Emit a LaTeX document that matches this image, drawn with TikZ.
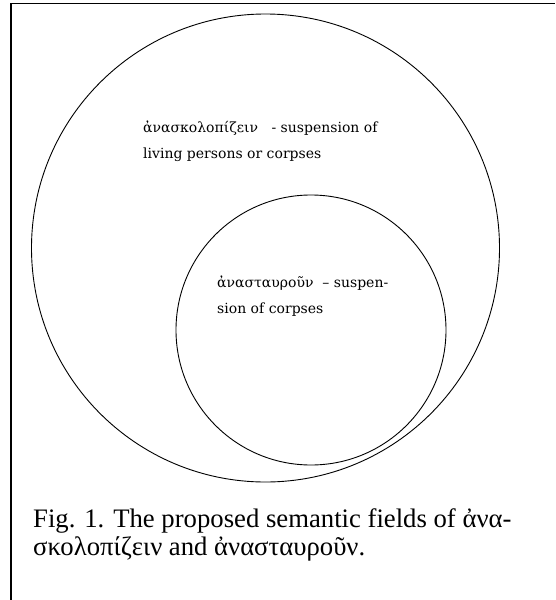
\documentclass[tikz,border=0pt]{standalone}
\usepackage{fontspec}
\setmainfont{DejaVu Serif}
\newfontfamily\capfont{Liberation Serif}
\usepackage{tikz}

\newcommand{\grk}[1]{{\fontsize{14}{12}\selectfont #1}}

\begin{document}
\begin{tikzpicture}[x=1pt,y=-1pt]
	\tikzstyle{every node}+=[inner sep=0pt]
	\tikzstyle{field}=[draw=black, line width=0.9pt, circle]
	\tikzstyle{fieldlabel}=[anchor=north west, align=left, font=\fontsize{14}{26}\selectfont]
	\useasboundingbox (0,0) rectangle (555,600);
	% frame, cut off at right and bottom
	\draw [black, line width=1.5pt] (11,600) -- (11,3.5) -- (555,3.5);
	% the two semantic fields
	\node [field, minimum size=468pt] (skolopizein) at (265.5,248) {};
	\node [field, minimum size=270pt] (stauroun) at (311,330) {};
	\node [fieldlabel] (skololabel) at (143,121)
		{\grk{ἀνασκολοπίζειν}\ \ \ - suspension of\\living persons or corpses};
	\node [fieldlabel] (staurolabel) at (217,276)
		{\grk{ἀνασταυροῦν}\ \ – suspen-\\sion of corpses};
	% caption
	\node [anchor=north west, align=left, font=\capfont\fontsize{26.7}{28}\selectfont] (caption) at (33,508)
		{Fig. 1. The proposed semantic fields of ἀνα-\\σκολοπίζειν and ἀνασταυροῦν.};
\end{tikzpicture}
\end{document}
